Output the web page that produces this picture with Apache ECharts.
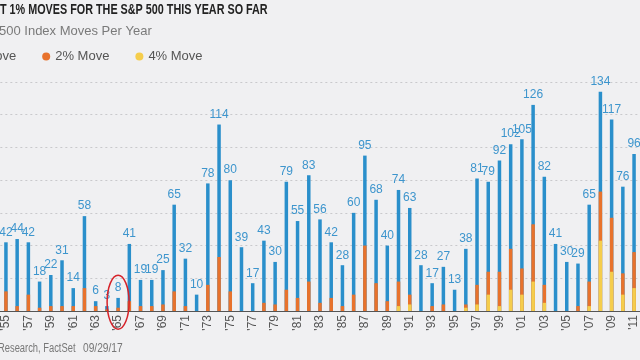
<!DOCTYPE html>
<html>
<head>
<meta charset="utf-8">
<script src="https://cdn.jsdelivr.net/npm/echarts@6/dist/echarts.min.js"></script>
<style>
html,body{margin:0;padding:0;background:#f0f0f2;}
#chart{width:640px;height:360px;}
</style>
</head>
<body>
<div id="chart"></div>
<script>
var years = [];
for (var y = 1955; y <= 2011; y++) years.push(String(y));

var move1 = [42,44,42,18,22,31,14,58,6,3,
             8,41,19,19,25,65,32,10,78,114,
             80,39,17,43,30,79,55,83,56,42,
             28,60,95,68,40,74,63,28,17,27,
             13,38,81,79,92,102,105,126,82,41,
             30,29,65,134,117,76,96];
var move2 = [12,3,10,2,3,3,3,14,3,1,
             2,6,3,3,4,12,3,0,16,33,
             12,0,0,5,4,13,8,18,5,8,
             3,10,40,17,6,18,10,0,3,4,
             0,4,16,24,24,38,26,53,16,0,
             0,3,18,73,57,23,36];
var move4 = [0,0,0,0,0,0,0,0,0,0,
             0,0,0,0,0,0,0,0,0,0,
             0,0,0,0,0,0,0,0,0,0,
             0,0,0,0,0,3,4,0,0,0,
             0,2,4,10,3,13,10,18,5,0,
             0,0,3,43,24,10,14];
var yTicks = [0,20,40,60,80,100,120,140];

var FONT = "'Liberation Sans Narrow', 'Liberation Sans', sans-serif";
var BLUE = '#2a8fcb', ORANGE = '#e8722c', YELLOW = '#f5cd4c';

var chart = echarts.init(document.getElementById('chart'));
var option = {
  backgroundColor: '#f0f0f2',
  animation: false,
  legend: {
    left: -56, top: 45,
    icon: 'circle', itemWidth: 8, itemHeight: 8, itemGap: 26,
    textStyle: {color: '#555', fontSize: 13, fontFamily: "'Liberation Sans', sans-serif"},
    data: ['1% Move', '2% Move', '4% Move']
  },
  grid: {left: -1.7, right: -4.7, top: 82, bottom: 49},
  xAxis: {
    type: 'category', data: years,
    axisLine: {lineStyle: {color: '#555', width: 1}},
    axisTick: {show: false},
    axisLabel: {
      interval: 1, rotate: 90, color: '#555', fontSize: 12, fontFamily: FONT, margin: 4,
      formatter: function (v) { return "'" + v.slice(2); }
    }
  },
  yAxis: {
    type: 'value', min: yTicks[0], max: yTicks[yTicks.length - 1], interval: 20,
    axisLabel: {show: false}, axisLine: {show: false}, axisTick: {show: false},
    splitLine: {lineStyle: {color: '#c9c9cc', type: [2, 3], width: 1}}
  },
  series: [
    {name: '1% Move', type: 'bar', data: move1, barWidth: 3.5, barGap: '-100%',
     itemStyle: {color: BLUE},
     label: {show: true, position: 'top', distance: 4, color: '#3d95cd', fontSize: 12, fontFamily: FONT}},
    {name: '2% Move', type: 'bar', data: move2, barWidth: 3.5, barGap: '-100%',
     itemStyle: {color: ORANGE}},
    {name: '4% Move', type: 'bar', data: move4, barWidth: 3.5, barGap: '-100%',
     itemStyle: {color: YELLOW}}
  ]
};
chart.setOption(option);

var idx65 = years.indexOf('1965');
var c = chart.convertToPixel({gridIndex: 0}, [idx65, 6]);
chart.setOption({
  graphic: [
    {type: 'text', x: 0, y: 2, scaleX: 0.72, style: {text: 'T 1% MOVES FOR THE S&P 500 THIS YEAR SO FAR',
      fill: '#222', font: "bold 15px 'Liberation Sans Narrow', 'Liberation Sans', sans-serif"}},
    {type: 'text', x: -1, y: 25, style: {text: '500 Index Moves Per Year',
      fill: '#7a7a7a', font: "13px 'Liberation Sans', sans-serif"}},
    {type: 'text', x: -2, y: 343, scaleX: 0.78, style: {text: 'Research, FactSet',
      fill: '#777', font: "12px 'Liberation Sans Narrow', 'Liberation Sans', sans-serif"}},
    {type: 'text', x: 83, y: 343, scaleX: 0.85, style: {text: '09/29/17',
      fill: '#777', font: "12px 'Liberation Sans Narrow', 'Liberation Sans', sans-serif"}},
    {type: 'ellipse', shape: {cx: c[0], cy: c[1] + 1, rx: 11, ry: 27}, z: 100,
     style: {fill: 'none', stroke: '#d6232a', lineWidth: 1.5}}
  ]
});
</script>
</body>
</html>
